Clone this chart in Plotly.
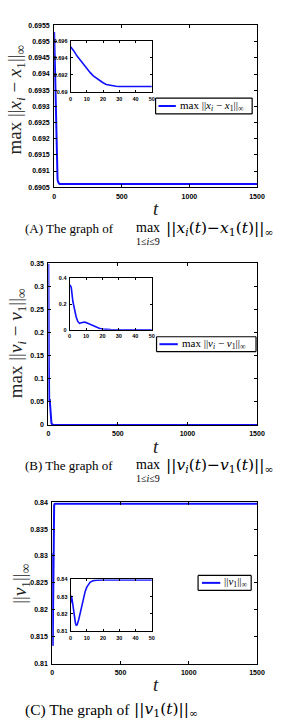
import plotly.graph_objects as go

W, H = 293, 727

# ---------------- data ----------------
tA = [0, 1, 2, 4, 6, 8, 10, 12, 14, 16, 18, 20, 22, 25, 28, 30, 35, 40, 50, 1500]
xA = [0.6953, 0.6951, 0.6948, 0.6942, 0.6937, 0.6932, 0.6927, 0.6923, 0.6919, 0.6916,
      0.6913, 0.6911, 0.6909, 0.69075, 0.69068, 0.69065, 0.69062, 0.6906, 0.6906, 0.6906]

tB = [0, 1, 2, 3, 4, 5, 6, 7, 8, 9, 10, 12, 14, 16, 18, 20, 22, 25, 30, 35, 50, 1500]
vB = [0.35, 0.33, 0.22, 0.15, 0.10, 0.065, 0.05, 0.055, 0.06, 0.06, 0.056, 0.045, 0.032,
      0.02, 0.012, 0.007, 0.004, 0.002, 0.0005, 0.0, 0.0, 0.0]

tC = [0, 0.5, 1, 2, 3, 3.5, 4, 5, 6, 7, 8, 9, 10, 12, 14, 16, 20, 50, 1500]
vC = [0.826, 0.8305, 0.828, 0.820, 0.8145, 0.8133, 0.8135, 0.8165, 0.821, 0.8255, 0.830,
      0.833, 0.8355, 0.8383, 0.8393, 0.8396, 0.8397, 0.8397, 0.8397]

main_xticks = [0, 500, 1000, 1500]
inset_xticks = [0, 10, 20, 30, 40, 50]

A_yticks = [0.6905, 0.691, 0.6915, 0.692, 0.6925, 0.693, 0.6935, 0.694, 0.6945, 0.695, 0.6955]
A_ylabels = ["0.6905", "0.691", "0.6915", "0.692", "0.6925", "0.693", "0.6935", "0.694", "0.6945", "0.695", "0.6955"]
A_in_yticks = [0.69, 0.692, 0.694, 0.696]
A_in_ylabels = ["0.69", "0.692", "0.694", "0.696"]

B_yticks = [0, 0.05, 0.1, 0.15, 0.2, 0.25, 0.3, 0.35]
B_ylabels = ["0", "0.05", "0.1", "0.15", "0.2", "0.25", "0.3", "0.35"]
B_in_yticks = [0, 0.2, 0.4]
B_in_ylabels = ["0", "0.2", "0.4"]

C_yticks = [0.81, 0.815, 0.82, 0.825, 0.83, 0.835, 0.84]
C_ylabels = ["0.81", "0.815", "0.82", "0.825", "0.83", "0.835", "0.84"]
C_in_yticks = [0.81, 0.82, 0.83, 0.84]
C_in_ylabels = ["0.81", "0.82", "0.83", "0.84"]

legend_labels = {
    "A": "max ||<i>x<sub>i</sub></i> − <i>x</i><sub>1</sub>||<sub>∞</sub>",
    "B": "max ||<i>v<sub>i</sub></i> − <i>v</i><sub>1</sub>||<sub>∞</sub>",
    "C": "||<i>v</i><sub>1</sub>||<sub>∞</sub>",
}

BLUE = "#1010ff"
SERIF = "Liberation Serif"
MATH = "DejaVu Serif"
TICKFONT = dict(family="Liberation Sans", size=7, color="black", weight="bold")
INTICKFONT = dict(family="Liberation Sans", size=5.5, color="black", weight="bold")


def fx(px):
    return px / W


def fy(py):
    return 1 - py / H


fig = go.Figure()

boxes = {
    "A": (54, 264, 21.7, 185),
    "Ai": (71, 155, 37, 89),
    "B": (48, 264, 262, 425),
    "Bi": (70, 155, 277, 329),
    "C": (52, 264, 503, 666),
    "Ci": (71, 155, 581, 633),
}
order = ["A", "B", "C", "Ai", "Bi", "Ci"]
ids = {k: i + 1 for i, k in enumerate(order)}

series = {"A": (tA, xA), "B": (tB, vB), "C": (tC, vC)}
yspec = {
    "A": ([0.6905, 0.6955], A_yticks, A_ylabels),
    "B": ([0, 0.35], B_yticks, B_ylabels),
    "C": ([0.81, 0.84], C_yticks, C_ylabels),
    "Ai": ([0.69, 0.696], A_in_yticks, A_in_ylabels),
    "Bi": ([0, 0.4], B_in_yticks, B_in_ylabels),
    "Ci": ([0.81, 0.84], C_in_yticks, C_in_ylabels),
}

for k in order:
    i = ids[k]
    sfx = "" if i == 1 else str(i)
    x0, x1, yt, yb = boxes[k]
    inset = k.endswith("i")
    base = k[0]
    t, v = series[base]
    fig.add_trace(go.Scatter(
        x=t, y=v, mode="lines",
        line=dict(color=BLUE, width=1.6 if inset else 2),
        xaxis="x" + sfx, yaxis="y" + sfx,
        name=legend_labels[base],
        showlegend=False,
        hoverinfo="skip",
    ))
    yr, yv, yl = yspec[k]
    xr = [0, 50] if inset else [0, 1500]
    xv = inset_xticks if inset else main_xticks
    tf = INTICKFONT if inset else TICKFONT
    common = dict(showline=True, linecolor="black", linewidth=1, mirror="ticks",
                  ticks="inside", ticklen=3 if not inset else 2, tickcolor="black",
                  tickwidth=1, showgrid=False, zeroline=False, tickfont=tf,
                  fixedrange=True)
    fig.layout["xaxis" + sfx] = dict(domain=[fx(x0), fx(x1)], range=xr, tickvals=xv,
                                     ticktext=[str(a) for a in xv],
                                     anchor="y" + sfx, ticklabelstandoff=1 if inset else 2,
                                     **common)
    fig.layout["yaxis" + sfx] = dict(domain=[fy(yb), fy(yt)], range=yr, tickvals=yv,
                                     ticktext=yl, anchor="x" + sfx,
                                     ticklabelstandoff=1 if inset else 2, **common)

shapes = []
ann = []

# manual legends: (box x0, x1, y0, y1, line x0, x1)
leg_geom = {
    "A": (159, 259, 95, 111, 162, 180),
    "B": (160, 263, 336, 351, 163, 182),
    "C": (203, 258, 577, 592, 207, 226),
}
for base, (bx0, bx1, by0, by1, lx0, lx1) in leg_geom.items():
    edges = [(bx0, by0, bx1, by0), (bx0, by1, bx1, by1),
             (bx0, by0, bx0, by1), (bx1, by0, bx1, by1)]
    for ex0, ey0, ex1, ey1 in edges:
        shapes.append(dict(type="line", xref="paper", yref="paper",
                           x0=fx(ex0), x1=fx(ex1), y0=fy(ey0), y1=fy(ey1),
                           line=dict(color="black", width=1.2), layer="above"))
    ym = (by0 + by1) / 2
    shapes.append(dict(type="line", xref="paper", yref="paper",
                       x0=fx(lx0), x1=fx(lx1), y0=fy(ym), y1=fy(ym),
                       line=dict(color=BLUE, width=2), layer="above"))
    ann.append(dict(text=legend_labels[base], x=fx(lx1 + 2), y=fy(ym - 0.5),
                    xref="paper", yref="paper", showarrow=False,
                    xanchor="left", yanchor="middle",
                    font=dict(family=SERIF, size=11, color="black")))

# y-axis titles
ytitles = [
    ("max ||<i>x<sub>i</sub></i> − <i>x</i><sub>1</sub>||<sub>∞</sub>", 15, 96),
    ("max ||<i>v<sub>i</sub></i> − <i>v</i><sub>1</sub>||<sub>∞</sub>", 15, 342),
    ("||<i>v</i><sub>1</sub>||<sub>∞</sub>", 20, 585),
]
for txt, px, py in ytitles:
    ann.append(dict(text=txt, x=fx(px), y=fy(py), xref="paper", yref="paper",
                    textangle=-90, showarrow=False, xanchor="center", yanchor="middle",
                    font=dict(family=SERIF, size=19, color="#222222")))
# x titles
for py in (206, 447, 687):
    ann.append(dict(text="<i>t</i>", x=fx(159), y=fy(py), xref="paper", yref="paper",
                    showarrow=False, xanchor="center", yanchor="middle",
                    font=dict(family=SERIF, size=19, color="#222222")))

# captions
CAP = dict(family=SERIF, size=13, color="black")
CAPM = dict(family=MATH, size=15.5, color="black")
captions = [
    ("(A) The graph of", "||<i>x<sub>i</sub></i>(<i>t</i>)−<i>x</i><sub>1</sub>(<i>t</i>)||<sub>∞</sub>", 227),
    ("(B) The graph of", "||<i>v<sub>i</sub></i>(<i>t</i>)−<i>v</i><sub>1</sub>(<i>t</i>)||<sub>∞</sub>", 466),
]
for head, norm, py in captions:
    ann.append(dict(text=head, x=fx(22), y=fy(py), xref="paper", yref="paper",
                    showarrow=False, xanchor="left", yanchor="middle", font=CAP))
    ann.append(dict(text="max", x=fx(151), y=fy(py - 1), xref="paper", yref="paper",
                    showarrow=False, xanchor="center", yanchor="middle",
                    font=dict(family=SERIF, size=14, color="black")))
    ann.append(dict(text="1≤<i>i</i>≤9", x=fx(151), y=fy(py + 13), xref="paper",
                    yref="paper", showarrow=False, xanchor="center", yanchor="middle",
                    font=dict(family=SERIF, size=10, color="black")))
    ann.append(dict(text=norm, x=fx(168), y=fy(py), xref="paper", yref="paper",
                    showarrow=False, xanchor="left", yanchor="middle", font=CAPM))
ann.append(dict(text="(C) The graph of", x=fx(22), y=fy(713), xref="paper", yref="paper",
                showarrow=False, xanchor="left", yanchor="middle",
                font=dict(family=SERIF, size=15.5, color="black")))
ann.append(dict(text="||<i>v</i><sub>1</sub>(<i>t</i>)||<sub>∞</sub>",
                x=fx(135), y=fy(713), xref="paper", yref="paper",
                showarrow=False, xanchor="left", yanchor="middle",
                font=dict(family=MATH, size=15.5, color="black")))

fig.update_layout(width=W, height=H, margin=dict(l=0, r=0, t=0, b=0),
                  paper_bgcolor="white", plot_bgcolor="white",
                  annotations=ann, shapes=shapes)

fig.write_html("out.html", config={"displayModeBar": False})
